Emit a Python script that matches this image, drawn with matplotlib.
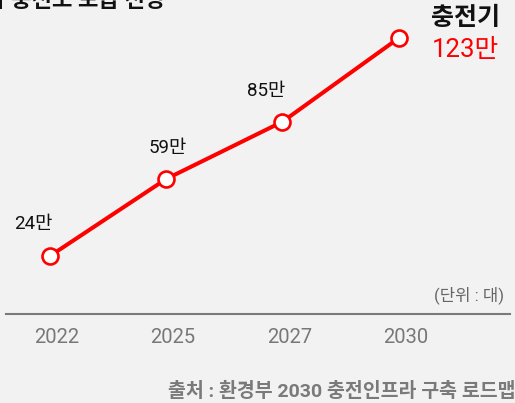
import matplotlib.pyplot as plt

plt.rcParams['font.family'] = ['Roboto', 'Noto Sans CJK KR', 'DejaVu Sans']

# data
years = ['2022', '2025', '2027', '2030']
chargers = [24, 59, 85, 123]          # 단위: 만 대
point_labels = ['24만', '59만', '85만', '']
title_text = '전기차 충전소 보급 전망'
source_text = '출처 : 환경부 2030 충전인프라 구축 로드맵'

W, H = 515, 403
bg = '#f2f2f2'

fig = plt.figure(figsize=(W / 100, H / 100), dpi=100, facecolor=bg)
ax = fig.add_axes([0, 0, 1, 1])
ax.set_facecolor(bg)

x = list(range(len(years)))
ax.plot(x, chargers, color='#ff0000', linewidth=2.9, marker='o', markersize=11.5,
        markerfacecolor='white', markeredgecolor='#ff0000', markeredgewidth=1.9,
        solid_capstyle='round', zorder=3)

# value labels above the points
offsets = [(-12, 23), (1, 22), (-12, 22)]
for xi, yi, lab, off in zip(x, chargers, point_labels, offsets):
    if lab:
        ax.annotate(lab, (xi, yi), xytext=off, textcoords='offset points',
                    ha='center', va='center', fontsize=13.5, color='#111111')

ax.set_xlim(-0.43, 4.0)
ax.set_ylim(-42.8, 140.3)
ax.axis('off')

def px(xp, yp):
    return xp / W, 1 - yp / H

# year labels under the baseline
for xi, yr in zip(x, years):
    ax.annotate(yr, (xi, 0), xycoords=('data', 'axes fraction'),
                xytext=(5, 47.5), textcoords='offset points',
                ha='center', va='center', fontsize=14.5, color='#777777')

# baseline
fig.add_artist(plt.Line2D([6 / W, 510 / W], [1 - 314 / H, 1 - 314 / H],
                          color='#7a7a7a', linewidth=1.5))

fig.text(*px(465, 18), '충전기', ha='center', va='center', fontsize=18,
         fontweight='bold', color='#111111')
fig.text(*px(465, 50), '123만', ha='center', va='center', fontsize=18.5,
         color='#ff0000')
fig.text(*px(504, 295), '(단위 : 대)', ha='right', va='center', fontsize=12,
         color='#666666')
fig.text(*px(516, 391), source_text, ha='right', va='center', fontsize=14,
         fontweight='bold', color='#7a7a7a')
fig.text(*px(166, 12), title_text, ha='right', va='bottom', fontsize=16,
         fontweight='bold', color='#111111')

fig.savefig('out.png', dpi=100, facecolor=bg)
